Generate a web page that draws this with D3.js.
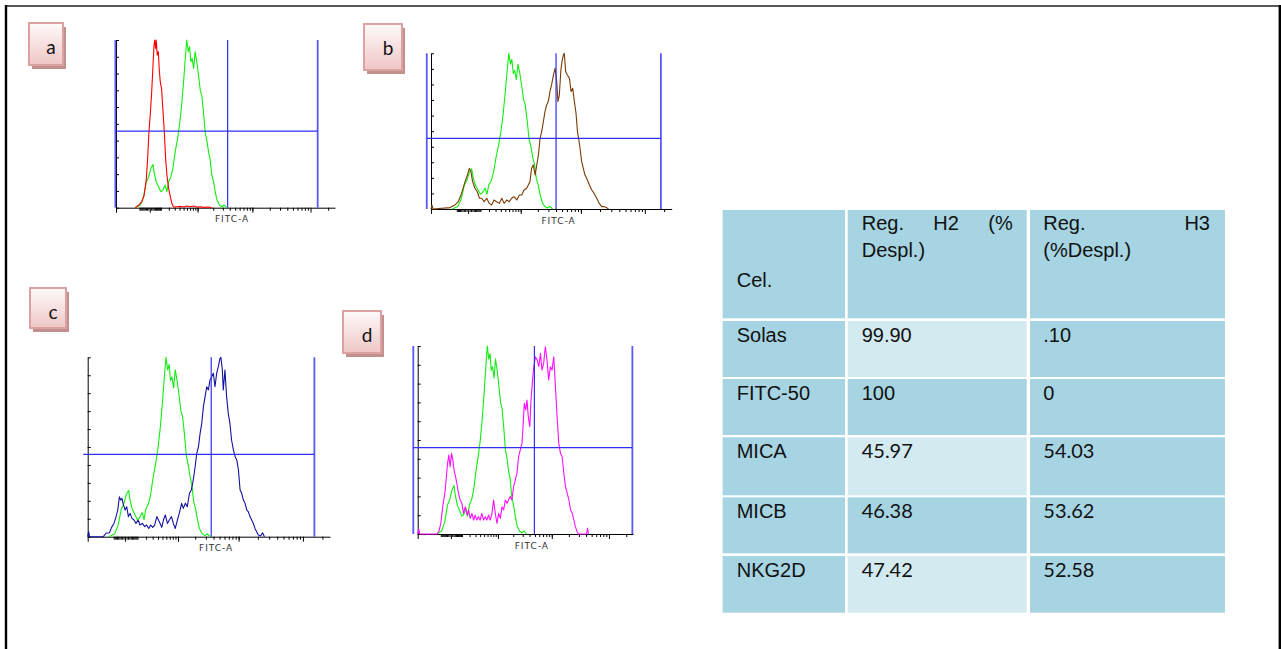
<!DOCTYPE html>
<html><head><meta charset="utf-8">
<script src="https://cdn.jsdelivr.net/npm/d3@7"></script>
<style>body{margin:0;background:#fff}svg{display:block}</style>
</head><body><svg id="c" width="1281" height="649"></svg>
<script>
// ---------- DATA ----------
// Histogram series: [display channel (0-1024), % of max count]
const fitc50Green = [[90,0],[114,1.6],[129,6.6],[142,15.5],[153,18.5],[163,23.5],[173,25.8],[179,20.5],[188,15.5],[199,12.5],[210,9.5],[219,10.5],[230,13.5],[238,9.5],[246,15.5],[257,18.5],[266,23.5],[277,33.4],[288,41.4],[297,49.3],[307,61.2],[316,75.1],[324,89],[331,100],[338,93],[344,96],[350,87],[356,89],[363,83],[370,93],[378,87],[386,79],[394,70],[401,67],[409,57],[417,45],[425,40],[433,33],[440,29],[448,19.5],[456,15.5],[464,9.5],[472,4.6],[484,1.6],[495,0.6],[506,1.6],[518,0]];
const solasRed = [[90,0],[106,1.6],[121,3.6],[132,7.6],[142,17.5],[148,29.4],[154,45.3],[160,55.3],[167,69.2],[173,85],[178,97],[181,100],[185,95],[188,100],[193,91],[198,93],[202,83],[207,75],[213,71],[219,59],[226,45],[232,29.4],[238,19.5],[246,11.5],[254,6.6],[261,2.6],[269,0.4],[285,0.6],[300,0.8],[316,0.4],[331,1.0],[347,0.6],[363,1.0],[378,0.4],[394,0.6],[409,0.2],[433,0.4],[448,0]];
const micaBrown = [[0,0],[4,2.6],[9,0],[81,0.9],[102,2.6],[116,4.7],[130,10],[145,17.6],[155,21.8],[163,26.1],[170,24],[177,17.6],[187,13.3],[197,11.1],[206,6.9],[216,6.9],[226,4.7],[237,6.9],[248,3.6],[258,2.6],[268,5.8],[279,4.7],[291,3.6],[301,6.9],[311,3.6],[322,5.8],[333,4.7],[343,6.9],[353,7.9],[365,5.8],[376,9],[386,9],[396,12.2],[407,13.3],[414,15.4],[421,17.6],[428,26.1],[435,28.3],[443,21.8],[450,28.3],[457,34.7],[464,45.4],[471,49.7],[478,56.1],[485,62.5],[492,66.8],[499,69],[506,75.4],[513,79.7],[521,86.1],[528,90.4],[535,81.8],[540,68.9],[546,73.2],[552,88.2],[557,94.6],[563,98.9],[567,100],[573,88.2],[580,86.1],[589,83.9],[596,75.4],[603,77.5],[610,69],[617,61.5],[623,49.7],[628,45.4],[634,39],[641,30.4],[648,26.1],[655,21.8],[662,19.7],[674,15.4],[684,12.2],[694,10],[705,6.9],[716,3.6],[726,1.5],[736,1.5],[747,0.9],[755,0]];
const micbBlue = [[0,0],[4,2.8],[8,0],[66,0],[77,1.9],[92,2.2],[101,5.2],[111,7.4],[120,11.2],[127,14.9],[134,22.3],[139,20.4],[145,21.4],[151,17.7],[158,14.9],[165,16.7],[172,11.2],[179,13],[187,10.2],[196,9.3],[204,7.4],[213,9.3],[221,6.5],[231,7.4],[241,5.6],[249,6.5],[258,4.6],[266,6.5],[275,5.2],[283,6.5],[292,11.2],[299,9.3],[306,7.4],[313,5.2],[320,9.3],[328,12.1],[337,7.4],[345,9.3],[354,11.2],[362,7.4],[370,4.6],[379,9.3],[387,13],[397,18.6],[404,15.8],[413,18.6],[421,16.7],[430,24.2],[438,26],[446,31.6],[454,39],[461,46.5],[468,50.2],[475,57.6],[482,63.2],[489,72.5],[496,78.1],[503,83.6],[510,81.8],[517,87.4],[524,89.2],[531,91.1],[538,83.6],[545,91.1],[552,94.8],[559,99.4],[563,100],[569,92.9],[573,81.8],[580,92.9],[587,78.1],[594,68.8],[601,63.2],[608,53.9],[616,48.3],[623,44.6],[630,42.8],[637,37.2],[644,26],[651,24.2],[658,20.4],[665,18.6],[672,14.9],[679,13.9],[686,11.2],[693,9.3],[700,7.4],[707,4.6],[714,2.8],[721,0.9],[731,0.4],[739,2.2],[747,0]];
const nkg2dMagenta = [[0,0],[5,2.8],[10,0],[91,0],[100,1.2],[110,5.7],[119,14.5],[129,21.6],[135,28.7],[142,37.6],[148,42],[154,35.8],[161,42.9],[167,39.4],[173,34],[180,30.5],[186,27],[194,21.6],[202,18.1],[210,16.3],[218,11],[226,14.5],[234,10.1],[242,12.8],[250,8.3],[258,11],[266,7.4],[273,10.1],[281,7.4],[289,9.2],[297,7.4],[305,11],[313,7.4],[321,9.2],[329,7.4],[337,10.1],[345,7.4],[353,11],[361,18.1],[369,11],[377,5.7],[385,11],[393,8.3],[401,14.5],[409,12.8],[417,18.1],[425,16.3],[432,18.1],[440,19.9],[448,18.1],[456,25.2],[464,28.7],[472,32.3],[480,41.1],[488,44.7],[496,48.2],[501,57.1],[507,69.5],[514,66],[520,71.3],[526,62.4],[533,57.1],[539,71.3],[545,80.1],[552,89],[560,94.3],[568,92.6],[576,89],[584,96.1],[591,87.2],[599,90.8],[607,99.6],[615,92.6],[623,82],[631,89],[639,87.2],[647,94.3],[655,78.4],[663,62.4],[671,48.2],[679,42.9],[687,41.1],[695,32.3],[703,25.2],[711,21.6],[719,18.1],[727,12.8],[735,11],[743,7.4],[750,3.9],[758,1.2],[765,0],[803,0],[808,3.2],[812,0]];
// Markers (channels): [start, H2/H3 boundary, end] and bar level (% of max)
const markersA = [-3, 522, 943], markersB = [-18, 532, 978], markersC = [-19, 522, 958], markersD = [-21, 555, 1021];
const markerLevels = [45.7, 45.4, 45.9, 45.9];
const panelLetters = ["a", "b", "c", "d"];
const axisTitle = "FITC-A";
// Table
const tableHeader = [["Cel."], ["Reg.", "H2", "(%", "Despl.)"], ["Reg.", "H3", "(%Despl.)"]];
const cellTypes = ["Solas", "FITC-50", "MICA", "MICB", "NKG2D"];
const regH2 = ["99.90", "100", "45.97", "46.38", "47.42"];
const regH3 = [".10", "0", "54.03", "53.62", "52.58"];

// ---------- DRAW ----------
const svg = d3.select("#c");
const defs = svg.append("defs");
const g = defs.append("linearGradient").attr("id","lbl").attr("x1",0).attr("y1",0).attr("x2",0).attr("y2",1);
g.append("stop").attr("offset","0%").attr("stop-color","#fefafa");
g.append("stop").attr("offset","100%").attr("stop-color","#f0c6c6");

// outer frame
svg.append("line").attr("x1",5).attr("x2",1281).attr("y1",6).attr("y2",6).attr("stroke","#222").attr("stroke-width",1.6);
svg.append("line").attr("x1",6).attr("x2",6).attr("y1",5).attr("y2",649).attr("stroke","#000").attr("stroke-width",2.4);
svg.append("line").attr("x1",1279.8).attr("x2",1279.8).attr("y1",5).attr("y2",649).attr("stroke","#000").attr("stroke-width",2.4);

const panels = [
  {x0:116, x1:335, yTop:40, yBot:207.7, series:[[fitc50Green,"#10ee10"],[solasRed,"#ff0000"]], markers:markersA, showLeft:true, box:[29,23,34,42]},
  {x0:431, x1:671.7, yTop:53.3, yBot:209, series:[[fitc50Green,"#10ee10"],[micaBrown,"#7a3c06"]], markers:markersB, showLeft:true, box:[364,24,38,46]},
  {x0:87.7, x1:330, yTop:357.3, yBot:536.7, series:[[fitc50Green,"#10ee10"],[micbBlue,"#12129e"]], markers:markersC, showLeft:false, box:[30,288,36,40]},
  {x0:417.7, x1:633, yTop:346, yBot:534, series:[[fitc50Green,"#10ee10"],[nkg2dMagenta,"#ff10ff"]], markers:markersD, showLeft:true, box:[343,311,38,42]}
];

// tick values for the FITC-A log-like axis
const minorTicks = [], majorTicks = [-500, 0, 1000, 10000, 100000];
for (let k=1;k<=9;k++){ minorTicks.push(-k*10); minorTicks.push(k*10); }
[100,1000,10000].forEach(d=>{ for(let k=1;k<=9;k++) minorTicks.push(k*d); });
minorTicks.push(200000);

panels.forEach((p,i)=>{
  const gp = svg.append("g");
  const xCh = d3.scaleLinear().domain([0,1024]).range([p.x0,p.x1]);
  const xF = d3.scaleSymlog().constant(180).domain([-500,262144]).range([p.x0,p.x1]);
  const y = d3.scaleLinear().domain([0,100]).range([p.yBot,p.yTop]);

  // label box
  const [bx,by,bw,bh] = p.box;
  gp.append("rect").attr("x",bx+3).attr("y",by+4).attr("width",bw).attr("height",bh).attr("fill","#c39090");
  gp.append("rect").attr("x",bx).attr("y",by).attr("width",bw).attr("height",bh).attr("fill","url(#lbl)").attr("stroke","#dca2a2").attr("stroke-width",2);
  gp.append("text").attr("x",bx+bw/2+5).attr("y",by+31).attr("text-anchor","middle")
    .attr("font-family","Lato, 'Liberation Sans', sans-serif").attr("font-size",19).attr("fill","#111").text(panelLetters[i]);

  // axes
  gp.append("g").attr("transform",`translate(0,${p.yBot})`)
    .call(d3.axisBottom(xF).tickValues(minorTicks).tickSize(3).tickSizeOuter(0).tickFormat(""))
    .call(a=>a.selectAll("line,path").attr("stroke","#000"));
  gp.append("g").attr("transform",`translate(0,${p.yBot})`)
    .call(d3.axisBottom(xF).tickValues(majorTicks).tickSize(5).tickSizeOuter(0).tickFormat(""))
    .call(a=>a.select("path").remove()).call(a=>a.selectAll("line").attr("stroke","#000"));
  gp.append("g").attr("transform",`translate(${p.x0},0)`)
    .call(d3.axisRight(y).tickValues(d3.range(0,101,10)).tickSize(3).tickSizeOuter(0).tickFormat(""))
    .call(a=>a.selectAll("line,path").attr("stroke","#000"));

  // histograms
  const line = d3.line().x(d=>xCh(d[0])).y(d=>y(d[1]));
  p.series.forEach(([data,color])=>{
    gp.append("path").datum(data).attr("d",line).attr("fill","none").attr("stroke",color).attr("stroke-width",1.1).attr("stroke-linejoin","round");
  });

  // markers
  const m = p.markers;
  const mk = "#3030f4";
  m.forEach((v,j)=>{
    if (j===0 && !p.showLeft) return;
    gp.append("line").attr("x1",xCh(v)).attr("x2",xCh(v)).attr("y1",p.yTop).attr("y2",p.yBot)
      .attr("stroke",mk).attr("stroke-width", j===1 ? 1.2 : 1.8).attr("stroke-opacity", j===1?1:0.8);
  });
  gp.append("line").attr("x1",xCh(m[0])).attr("x2",xCh(m[2])).attr("y1",y(markerLevels[i])).attr("y2",y(markerLevels[i]))
    .attr("stroke",mk).attr("stroke-width",1.2);

  // axis title
  gp.append("text").attr("x",p.x0+(p.x1-p.x0)*0.53).attr("y",p.yBot+14.5).attr("text-anchor","middle")
    .attr("font-family","'DejaVu Sans', sans-serif").attr("font-size",9).attr("letter-spacing",1).attr("fill","#333").text(axisTitle);
});

// ---------- TABLE ----------
const colX = [722.7, 847.7, 1030], colW = [122.3, 179, 195];
const rowY = [210, 321, 379, 437.3, 497.3, 556], rowH = [108.3, 56, 56, 58, 56, 56.7];
const dark = "#a6d4e2", light = "#d3eaf1";
const arial = "'Liberation Sans', Arial, sans-serif", calibri = "Lato, 'Open Sans', sans-serif";
const tg = svg.append("g");
for (let r=0;r<6;r++){
  for (let c=0;c<3;c++){
    const isLight = c===1 && (r===1 || r===3 || r===5);
    tg.append("rect").attr("x",colX[c]).attr("y",rowY[r]).attr("width",colW[c]).attr("height",rowH[r]).attr("fill",isLight?light:dark);
  }
}
// header
function txt(x,y,s,font,anchor){ return tg.append("text").attr("x",x).attr("y",y).attr("font-family",font||arial).attr("font-size",20).attr("fill","#111").attr("text-anchor",anchor||"start").text(s); }
txt(736.7, 286.7, tableHeader[0][0]);
// column 2 header: justified first line
{
  const left = colX[1]+14, right = colX[1]+colW[1]-14;
  const w1 = txt(left,230,tableHeader[1][0]).node().getComputedTextLength();
  const t3 = txt(right,230,tableHeader[1][2],arial,"end");
  const w3 = t3.node().getComputedTextLength();
  const t2 = txt(0,230,tableHeader[1][1]);
  const w2 = t2.node().getComputedTextLength();
  t2.attr("x", left+w1+((right-w3)-(left+w1)-w2)/2);
  txt(left,257,tableHeader[1][3]);
}
{
  const left = colX[2]+13.3, right = colX[2]+colW[2]-15;
  txt(left,230,tableHeader[2][0]);
  txt(right,230,tableHeader[2][1],arial,"end");
  txt(left,257,tableHeader[2][2]);
}
cellTypes.forEach((name,i)=>{
  const base = rowY[i+1]+21;
  const f = i>=2 ? calibri : arial;
  txt(736.7, base, name);
  txt(861.7, base, regH2[i], f);
  txt(1043.3, base, regH3[i], f);
});
</script></body></html>
